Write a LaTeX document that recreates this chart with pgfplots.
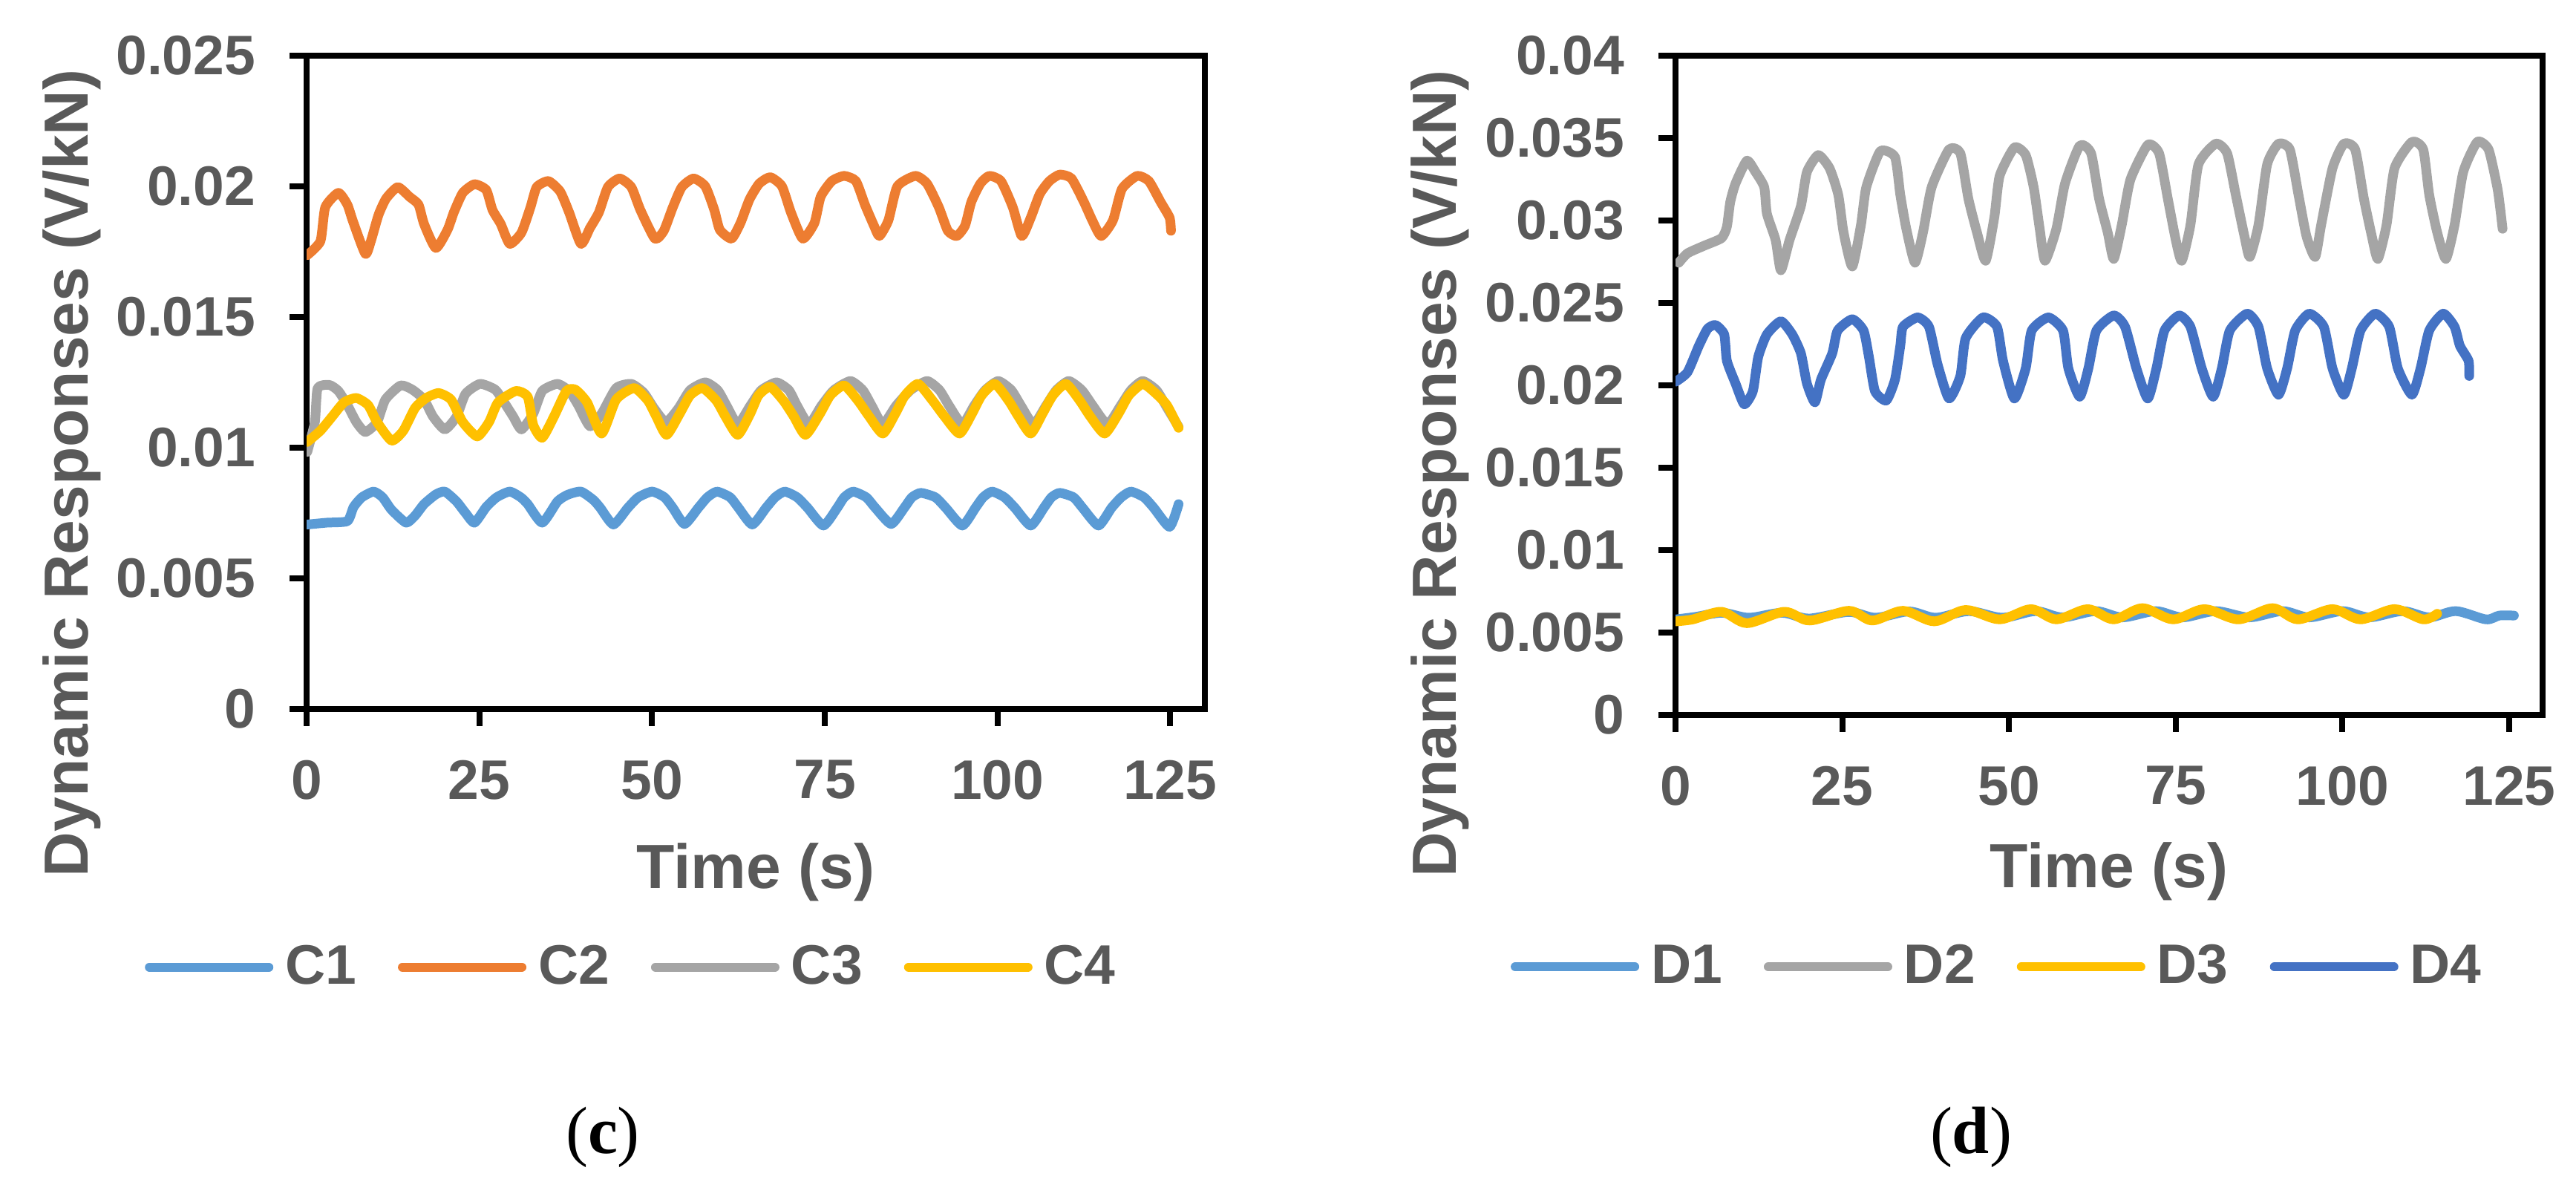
\documentclass[border=0pt]{standalone}
\usepackage{pgfplots}
\pgfplotsset{compat=1.18}
\usepackage{fontspec}
\setmainfont{Liberation Sans}
\newfontfamily\serifc{Liberation Serif}
\definecolor{cBlue}{HTML}{5B9BD5}
\definecolor{cOrange}{HTML}{ED7D31}
\definecolor{cGray}{HTML}{A5A5A5}
\definecolor{cYellow}{HTML}{FFC000}
\definecolor{cDark}{HTML}{4472C4}
\definecolor{textgray}{HTML}{595959}

\pgfplotsset{
  panel/.style={
    scale only axis,
    anchor=south west,
    xmin=0, xmax=130,
    xtick={0,25,50,75,100,125},
    xticklabels={0,25,50,75,100,125},
    scaled y ticks=false,
    tick pos=left,
    tick align=outside,
    major tick length=4.6pt,
    tick style={black, line width=1.6pt},
    axis line style={black, line width=1.6pt},
    /pgf/number format/assume math mode=true,
    ticklabel style={font=\fontsize{15}{15}\selectfont\bfseries, text=textgray, inner sep=0pt},
    xticklabel shift=9pt,
    yticklabel shift=9pt,
    label style={font=\fontsize{16.8}{16.8}\selectfont\bfseries, text=textgray, inner sep=0pt},
    xlabel={Time (s)},
    ylabel={Dynamic Responses (V/kN)},
    legend columns=4,
    legend image code/.code={\draw[#1, line width=2.4pt, line cap=round] (0pt,0pt) -- (32.2pt,0pt);},
    legend style={draw=none, fill=none, inner sep=0pt, outer sep=0pt,
      font=\fontsize{15}{15}\selectfont\bfseries,
      nodes={inner sep=0pt, text=textgray},
      /tikz/every odd column/.append style={column sep=3.2pt},
      /tikz/every even column/.append style={column sep=11.2pt}},
    every axis plot/.append style={line width=2.6pt, line join=round, line cap=round, smooth, tension=0.35},
  }
}

\begin{document}
\begin{tikzpicture}
\path (0,0) rectangle (694pt,317.6pt);

% ---------------- panel (c) ----------------
\begin{axis}[panel,
  at={(82.6pt,126.6pt)}, width=242pt, height=176pt,
  ymin=0, ymax=0.025,
  ytick={0,0.005,0.01,0.015,0.02,0.025},
  yticklabels={0,0.005,0.01,0.015,0.02,0.025},
  xlabel style={at={(axis description cs:0.5,-0.274)}, anchor=base},
  ylabel style={at={(axis description cs:-0.243,0.361)}, anchor=base, rotate=0},
  legend style={at={(axis description cs:-0.180,-0.395)}, anchor=west},
]
\addplot[cBlue] table {
0.1 0.00706
2.9 0.00713
5.9 0.00719
6.8 0.00773
8.0 0.0081
9.7 0.00832
11.0 0.0081
12.3 0.00762
14.4 0.00713
15.7 0.0074
17.0 0.00784
18.7 0.00821
20.0 0.00832
21.7 0.00794
23.0 0.0075
24.3 0.00713
26.0 0.00773
27.5 0.0081
29.4 0.00832
31.0 0.0081
32.0 0.00784
34.1 0.00713
36.3 0.00794
37.8 0.0082
39.7 0.00832
41.5 0.0080
42.5 0.0077
44.4 0.00706
46.5 0.0077
48.0 0.0081
50.0 0.00832
51.8 0.0081
53.0 0.0077
54.7 0.00708
56.7 0.0077
58.0 0.0081
59.4 0.00832
61.3 0.0081
62.5 0.0077
64.5 0.00706
66.5 0.0077
67.8 0.0081
69.2 0.00832
71.0 0.0081
72.5 0.0077
74.8 0.00702
76.8 0.0077
77.8 0.0081
79.1 0.00832
81.0 0.0081
82.3 0.0077
84.6 0.00708
86.5 0.0077
87.6 0.0081
88.9 0.00827
91.0 0.0081
92.5 0.0077
94.9 0.00702
96.8 0.0077
97.9 0.0081
99.2 0.00832
101.0 0.0081
102.5 0.0077
104.8 0.00702
106.7 0.0077
107.8 0.0081
109.0 0.00827
111.0 0.0081
112.3 0.0077
114.6 0.00702
116.5 0.0077
117.9 0.0081
119.3 0.00832
121.2 0.0081
122.6 0.0077
124.9 0.00697
126.2 0.00784
};
\addlegendentry{C1}
\addplot[cOrange] table {
0.1 0.01737
2.0 0.0179
2.7 0.0192
4.6 0.01975
5.9 0.0193
6.7 0.01867
8.5 0.01742
9.3 0.0179
10.4 0.0189
11.5 0.01953
13.2 0.01997
14.9 0.0196
16.2 0.0193
17.0 0.01856
18.7 0.01764
20.4 0.01834
21.3 0.0190
22.6 0.01975
24.3 0.02008
26.0 0.01986
26.9 0.0191
28.1 0.01856
29.4 0.0178
31.1 0.01823
32.4 0.0192
33.3 0.01997
35.0 0.0202
36.7 0.0198
38.0 0.0190
39.7 0.0178
41.0 0.0184
42.3 0.0190
43.6 0.01997
45.3 0.0203
47.0 0.01997
48.3 0.0191
50.4 0.0180
51.7 0.0183
53.0 0.0192
54.3 0.01997
56.0 0.0203
57.7 0.0200
59.0 0.0191
59.8 0.01834
61.5 0.0180
62.8 0.0186
64.1 0.0195
65.5 0.0201
67.1 0.02035
68.8 0.0200
70.1 0.0190
71.8 0.0180
73.5 0.0186
74.4 0.0196
76.0 0.0202
77.8 0.0204
79.5 0.0202
80.8 0.0193
82.1 0.0185
82.9 0.0181
84.2 0.0187
85.5 0.0200
88.1 0.0204
89.8 0.0201
91.5 0.0192
92.8 0.0183
94.1 0.0181
95.3 0.0185
96.2 0.0194
97.5 0.0201
98.8 0.0204
100.5 0.0202
102.2 0.0192
103.5 0.0181
104.8 0.0188
106.1 0.0197
107.5 0.0202
109.0 0.02045
110.7 0.0203
112.5 0.0194
113.7 0.0187
115.0 0.0181
116.7 0.0187
118.0 0.0199
120.2 0.0204
121.9 0.0202
123.6 0.0194
124.9 0.0188
125.1 0.0183
};
\addlegendentry{C2}
\addplot[cGray] table {
0.1 0.00984
1.2 0.01098
1.6 0.01228
3.3 0.0124
4.6 0.01217
5.9 0.01163
7.2 0.01098
8.5 0.0106
10.2 0.01098
11.4 0.01184
13.6 0.01238
15.3 0.01222
17.0 0.01184
18.3 0.01119
20.0 0.0107
21.7 0.01119
23.0 0.01206
25.1 0.01244
27.3 0.01222
28.6 0.01173
29.9 0.01119
31.1 0.0107
32.8 0.0113
34.1 0.01217
36.3 0.01244
38.0 0.01217
39.3 0.01163
41.0 0.01082
42.7 0.0113
44.8 0.01228
47.0 0.01244
48.8 0.0121
50.3 0.0115
52.0 0.01098
53.8 0.0115
55.5 0.0122
57.7 0.0125
59.5 0.0122
60.8 0.0116
62.4 0.0109
64.2 0.0116
65.8 0.0122
68.0 0.0125
69.8 0.0122
71.0 0.0116
72.7 0.0109
74.5 0.0116
76.3 0.0122
78.7 0.01255
80.5 0.0122
81.8 0.0116
83.4 0.0109
85.3 0.0116
87.4 0.0122
89.8 0.01255
91.6 0.0122
93.0 0.0116
94.9 0.0109
96.6 0.0116
98.2 0.0122
100.1 0.01255
102.0 0.0122
103.4 0.0116
105.2 0.0109
107.0 0.0116
108.5 0.0122
110.3 0.01255
112.2 0.0122
113.8 0.0116
115.9 0.0109
117.8 0.0116
119.3 0.0122
121.0 0.01255
123.0 0.0122
124.6 0.0115
126.2 0.0108
};
\addlegendentry{C3}
\addplot[cYellow] table {
0.1 0.01022
2.0 0.01065
3.7 0.01119
5.4 0.01173
7.2 0.0119
8.9 0.01163
10.2 0.01098
12.3 0.01027
14.0 0.01065
15.7 0.01152
17.3 0.0119
19.1 0.01209
20.9 0.01184
22.6 0.01098
24.7 0.01043
26.4 0.01098
27.7 0.01173
30.3 0.01217
32.0 0.01195
32.8 0.01087
34.1 0.01038
35.8 0.01119
37.6 0.01217
38.9 0.01222
40.6 0.01173
42.7 0.01054
44.8 0.01184
47.4 0.01228
49.4 0.0118
50.6 0.0112
52.1 0.01049
54.0 0.0113
55.5 0.0120
57.3 0.01228
59.3 0.0118
60.6 0.0112
62.4 0.01049
64.2 0.0113
65.4 0.0120
67.1 0.01233
69.0 0.0118
70.5 0.0112
72.2 0.01049
74.3 0.0113
75.8 0.0120
77.8 0.01238
79.8 0.0118
81.4 0.0112
83.4 0.01054
85.2 0.0113
86.6 0.0120
88.5 0.01244
90.6 0.0118
92.3 0.0112
94.5 0.01054
96.3 0.0113
97.7 0.0120
99.6 0.01244
101.6 0.0118
103.0 0.0112
104.8 0.01054
106.5 0.0113
108.0 0.0120
109.9 0.01244
111.9 0.0118
113.4 0.0112
115.5 0.01054
117.5 0.0113
119.0 0.0120
121.0 0.01244
122.8 0.0121
124.5 0.01163
126.2 0.01076
};
\addlegendentry{C4}
\end{axis}
\node[font=\fontsize{18}{18}\selectfont\serifc, inner sep=0pt] at (162.4pt,11.2pt) {(\textbf{c})};

% ---------------- panel (d) ----------------
\begin{axis}[panel,
  at={(451.4pt,125pt)}, width=233.6pt, height=177.6pt,
  ymin=0, ymax=0.04,
  ytick={0,0.005,0.01,0.015,0.02,0.025,0.03,0.035,0.04},
  yticklabels={0,0.005,0.01,0.015,0.02,0.025,0.03,0.035,0.04},
  xlabel style={at={(axis description cs:0.5,-0.262)}, anchor=base},
  ylabel style={at={(axis description cs:-0.253,0.366)}, anchor=base, rotate=0},
  legend style={at={(axis description cs:-0.190,-0.382)}, anchor=west},
]
\addplot[cBlue, tension=0.5] table {
0.1 0.0058
3.0 0.00595
7.0 0.0062
11.0 0.0059
16.0 0.0062
20.0 0.00585
26.0 0.00625
30.0 0.0059
35.0 0.00628
39.0 0.0059
44.0 0.0063
49.0 0.0059
54.0 0.0063
58.0 0.00592
63.0 0.0063
67.0 0.00592
72.0 0.0063
76.0 0.00592
81.0 0.0063
86.0 0.00592
91.0 0.0063
95.0 0.00592
100.0 0.0063
104.0 0.00592
109.0 0.0063
113.0 0.00592
117.0 0.0063
121.5 0.0058
123.5 0.00603
125.7 0.00603
};
\addlegendentry{D1}
\addplot[cGray] table {
0.5 0.02744
1.8 0.02801
4.3 0.02847
6.9 0.02893
7.7 0.02962
8.2 0.03111
9.0 0.03225
10.7 0.03363
12.0 0.03294
13.3 0.03202
13.7 0.03042
15.0 0.02882
15.8 0.02698
17.1 0.02882
18.8 0.03088
19.7 0.03294
21.4 0.03397
23.1 0.03317
24.4 0.03156
25.2 0.02927
26.5 0.02721
27.8 0.02973
28.6 0.03202
30.7 0.0342
32.9 0.03385
33.7 0.03156
34.6 0.0295
35.9 0.02744
37.1 0.02927
38.4 0.03202
41.0 0.03431
42.7 0.03408
43.9 0.03134
45.2 0.02927
46.5 0.02756
47.8 0.0302
48.6 0.03271
50.8 0.03443
52.5 0.03397
53.7 0.03202
54.6 0.0295
55.4 0.02756
57.1 0.0295
58.4 0.03225
60.6 0.03454
62.3 0.03408
63.5 0.03134
64.8 0.02927
65.7 0.02767
66.9 0.02973
68.2 0.03248
70.8 0.03459
72.5 0.03408
73.8 0.03134
75.0 0.02882
75.9 0.02756
77.2 0.02973
78.4 0.0334
81.0 0.03466
82.7 0.03408
84.0 0.03156
85.3 0.02904
86.1 0.02779
87.4 0.02973
88.7 0.0334
90.4 0.03466
92.1 0.03431
93.4 0.03156
94.6 0.02904
95.9 0.02779
96.8 0.02973
98.5 0.03317
100.2 0.03466
101.9 0.03431
103.2 0.03134
104.4 0.02904
105.3 0.02767
106.6 0.02973
107.8 0.03317
110.4 0.03477
112.1 0.03431
113.0 0.03156
114.2 0.02927
115.5 0.02767
116.8 0.02973
118.1 0.03294
120.2 0.03477
121.9 0.03431
123.2 0.03202
123.6 0.03088
124.0 0.0295
};
\addlegendentry{D2}
\addplot[cYellow, tension=0.5] table {
0.07 0.00568
2.6 0.0058
6.9 0.00626
10.7 0.00557
16.3 0.00626
20.1 0.00573
26.0 0.00632
29.5 0.00573
34.1 0.00632
38.8 0.00568
43.5 0.00637
48.6 0.0058
53.3 0.00642
57.1 0.0058
61.8 0.00642
65.7 0.0058
70.0 0.00648
74.6 0.0058
79.3 0.00642
84.4 0.0058
89.5 0.00648
93.3 0.0058
98.5 0.00642
102.7 0.0058
107.8 0.00642
112.1 0.0058
114.2 0.00614
};
\addlegendentry{D3}
\addplot[cDark] table {
0.07 0.02023
1.8 0.0208
3.5 0.0224
4.8 0.02343
6.0 0.02366
7.3 0.02309
7.7 0.02149
9.0 0.02011
10.3 0.01885
11.6 0.01965
12.4 0.02172
13.7 0.02309
15.8 0.02389
17.5 0.02309
18.8 0.02194
19.7 0.02011
20.9 0.01897
21.8 0.02034
23.5 0.02194
24.3 0.02332
26.5 0.02401
28.2 0.02332
29.0 0.02172
29.9 0.01965
31.6 0.01908
32.9 0.02034
33.7 0.0224
34.1 0.02355
36.3 0.02412
38.0 0.02355
39.3 0.02126
41.0 0.0192
42.7 0.02057
43.5 0.02286
46.1 0.02412
48.2 0.02355
49.1 0.02149
50.8 0.0192
52.5 0.02103
53.4 0.02332
55.9 0.02412
58.1 0.02332
58.9 0.02103
60.6 0.01931
61.9 0.02103
63.1 0.02332
65.7 0.02424
67.4 0.02355
69.1 0.02103
70.8 0.0192
72.1 0.02103
73.3 0.02332
75.5 0.02424
77.2 0.02355
78.9 0.02103
80.6 0.01931
81.9 0.02103
83.1 0.02332
85.7 0.02435
87.4 0.02355
88.7 0.02103
90.4 0.01943
91.7 0.02103
92.9 0.02332
95.0 0.02435
97.2 0.02355
98.5 0.02103
100.2 0.01943
101.4 0.02103
102.7 0.02332
104.9 0.02435
107.0 0.02355
108.3 0.02103
110.4 0.01943
111.7 0.02103
113.0 0.02332
115.1 0.02435
116.8 0.02355
117.6 0.0224
118.9 0.02149
119.0 0.02057
};
\addlegendentry{D4}
\end{axis}
\node[font=\fontsize{18}{18}\selectfont\serifc, inner sep=0pt] at (531pt,11.2pt) {(\textbf{d})};
\end{tikzpicture}
\end{document}
